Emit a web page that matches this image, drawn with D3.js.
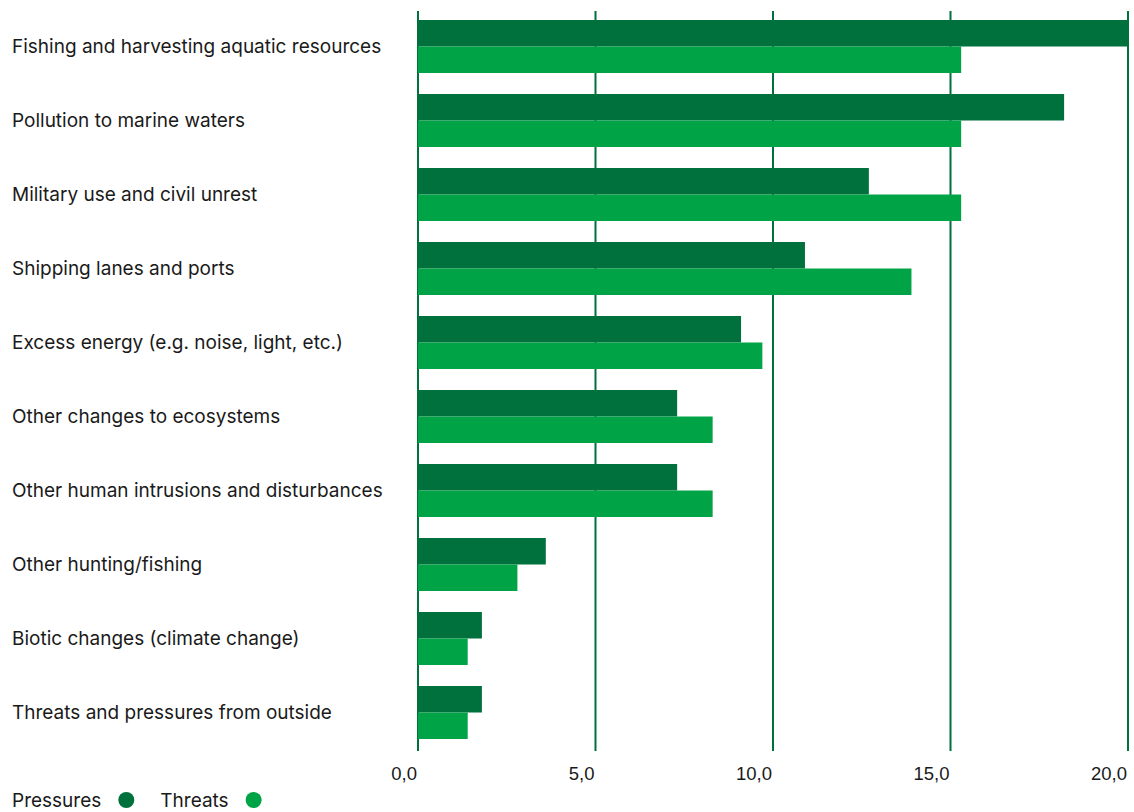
<!DOCTYPE html>
<html>
<head>
<meta charset="utf-8">
<script src="https://cdn.jsdelivr.net/npm/d3@7"></script>
<style>
  html, body { margin: 0; padding: 0; background: #fff; }
  svg { display: block; }
</style>
</head>
<body>
<svg id="chart" width="1134" height="812"></svg>
<script>
const categories = [
  "Fishing and harvesting aquatic resources",
  "Pollution to marine waters",
  "Military use and civil unrest",
  "Shipping lanes and ports",
  "Excess energy (e.g. noise, light, etc.)",
  "Other changes to ecosystems",
  "Other human intrusions and disturbances",
  "Other hunting/fishing",
  "Biotic changes (climate change)",
  "Threats and pressures from outside"
];
const pressures = [20.0, 18.2, 12.7, 10.9, 9.1, 7.3, 7.3, 3.6, 1.8, 1.8];
const threats   = [15.3, 15.3, 15.3, 13.9, 9.7, 8.3, 8.3, 2.8, 1.4, 1.4];
const seriesNames = ["Pressures", "Threats"];
const tickValues = [0, 5, 10, 15, 20];

const colors = { Pressures: "#00703C", Threats: "#00A346" };
const gridColor = "#00703C";
const textColor = "#1a1a1a";
const labelFont = "Inter, 'Noto Sans', sans-serif";

const svg = d3.select("#chart");

const x = d3.scaleLinear().domain([0, 20]).range([418, 1128]);
const y = d3.scaleBand().domain(categories).range([9.5, 749.5]).paddingInner(0.284).paddingOuter(0.142);
const sub = d3.scaleBand().domain(seriesNames).range([0, y.bandwidth()]);

// gridlines
svg.append("g").selectAll("line").data(tickValues).join("line")
  .attr("x1", d => x(d)).attr("x2", d => x(d))
  .attr("y1", 11).attr("y2", 751)
  .attr("stroke", gridColor).attr("stroke-width", 2);

// bars
const rows = categories.map((c, i) => ({ c, Pressures: pressures[i], Threats: threats[i] }));
const g = svg.append("g");
rows.forEach(r => {
  seriesNames.forEach(s => {
    g.append("rect")
      .attr("x", x(0))
      .attr("y", y(r.c) + sub(s))
      .attr("width", x(r[s]) - x(0))
      .attr("height", sub.bandwidth())
      .attr("fill", colors[s]);
  });
});

// category labels
svg.append("g").selectAll("text").data(categories).join("text")
  .attr("x", 12)
  .attr("y", d => y(d) + y.bandwidth() / 2)
  .attr("dominant-baseline", "central")
  .attr("font-family", labelFont)
  .attr("font-size", 19)
  .attr("fill", textColor)
  .text(d => d);

// x axis labels (right-aligned to gridlines)
const fmt = d => d3.format(".1f")(d).replace(".", ",");
svg.append("g").selectAll("text").data(tickValues).join("text")
  .attr("x", d => x(d) - 1)
  .attr("y", 773)
  .attr("text-anchor", "end")
  .attr("dominant-baseline", "central")
  .attr("font-family", "'Liberation Sans', Arial, sans-serif")
  .attr("font-size", 18.5)
  .attr("fill", textColor)
  .text(fmt);

// legend
const legend = svg.append("g");
let lx = 12;
seriesNames.forEach(s => {
  const t = legend.append("text")
    .attr("x", lx).attr("y", 800)
    .attr("dominant-baseline", "central")
    .attr("font-family", labelFont)
    .attr("font-size", 19)
    .attr("fill", textColor)
    .text(s);
  const w = t.node().getComputedTextLength();
  legend.append("circle")
    .attr("cx", lx + w + 25).attr("cy", 800).attr("r", 8)
    .attr("fill", colors[s]);
  lx = lx + w + 59;
});
</script>
</body>
</html>
